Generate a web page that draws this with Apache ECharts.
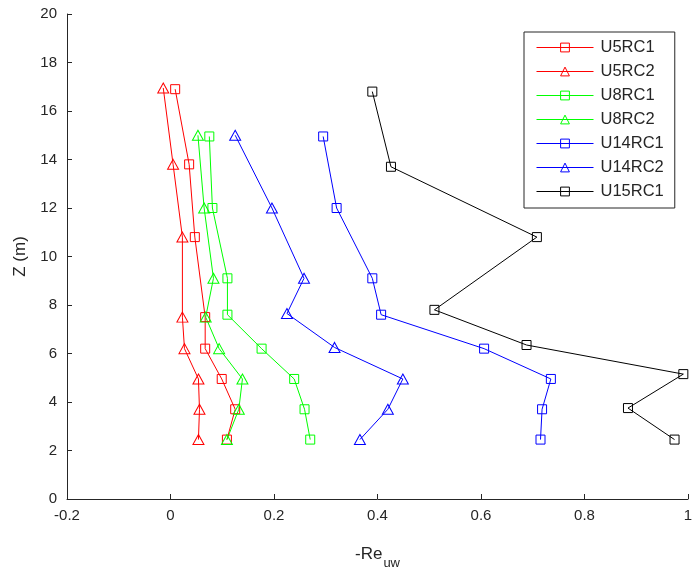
<!DOCTYPE html>
<html>
<head>
<meta charset="utf-8">
<style>
  html, body { margin: 0; padding: 0; background: #fff; }
  #chart { width: 693px; height: 569px; }
</style>
<script src="https://cdn.jsdelivr.net/npm/echarts@6/dist/echarts.min.js"></script>
</head>
<body>
<div id="chart"></div>
<script>
// Reynolds stress profiles: -Re_uw against height Z (m)
const seriesNames = ['U5RC1', 'U5RC2', 'U8RC1', 'U8RC2', 'U14RC1', 'U14RC2', 'U15RC1'];

const zU5RC1 = [16.9, 13.8, 10.8, 7.5, 6.2, 4.95, 3.7, 2.45];
const xU5RC1 = [0.009, 0.036, 0.047, 0.067, 0.067, 0.099, 0.125, 0.109];

const zU5RC2 = [16.95, 13.8, 10.8, 7.5, 6.2, 4.95, 3.7, 2.45];
const xU5RC2 = [-0.014, 0.005, 0.023, 0.023, 0.027, 0.054, 0.056, 0.054];

const zU8RC1 = [14.95, 12.0, 9.1, 7.6, 6.2, 4.95, 3.7, 2.45];
const xU8RC1 = [0.075, 0.081, 0.11, 0.11, 0.176, 0.239, 0.259, 0.27];

const zU8RC2 = [15.0, 12.0, 9.1, 7.5, 6.2, 4.95, 3.7, 2.45];
const xU8RC2 = [0.053, 0.065, 0.083, 0.068, 0.094, 0.139, 0.132, 0.109];

const zU14RC1 = [14.95, 12.0, 9.1, 7.6, 6.2, 4.95, 3.7, 2.45];
const xU14RC1 = [0.295, 0.321, 0.39, 0.407, 0.606, 0.735, 0.718, 0.715];

const zU14RC2 = [15.0, 12.0, 9.1, 7.65, 6.25, 4.95, 3.7, 2.45];
const xU14RC2 = [0.125, 0.196, 0.258, 0.225, 0.317, 0.449, 0.42, 0.366];

const zU15RC1 = [16.8, 13.7, 10.8, 7.8, 6.35, 5.15, 3.75, 2.45];
const xU15RC1 = [0.39, 0.426, 0.708, 0.51, 0.688, 0.991, 0.884, 0.974];

const xTicks = [-0.2, 0, 0.2, 0.4, 0.6, 0.8, 1];
const zTicks = [0, 2, 4, 6, 8, 10, 12, 14, 16, 18, 20];

const profiles = [
  { name: seriesNames[0], x: xU5RC1, z: zU5RC1, color: '#ff0000', marker: 'rect' },
  { name: seriesNames[1], x: xU5RC2, z: zU5RC2, color: '#ff0000', marker: 'triangle' },
  { name: seriesNames[2], x: xU8RC1, z: zU8RC1, color: '#00ff00', marker: 'rect' },
  { name: seriesNames[3], x: xU8RC2, z: zU8RC2, color: '#00ff00', marker: 'triangle' },
  { name: seriesNames[4], x: xU14RC1, z: zU14RC1, color: '#0000ff', marker: 'rect' },
  { name: seriesNames[5], x: xU14RC2, z: zU14RC2, color: '#0000ff', marker: 'triangle' },
  { name: seriesNames[6], x: xU15RC1, z: zU15RC1, color: '#000000', marker: 'rect' }
];

const FONT = '"Liberation Sans", Arial, sans-serif';
const AXIS_COLOR = '#262626';
const HOLLOW = 'rgba(255,255,255,0)';

const chart = echarts.init(document.getElementById('chart'), null, { renderer: 'canvas' });

const option = {
  backgroundColor: '#ffffff',
  animation: false,
  grid: { left: 67, right: 5, top: 14, bottom: 70, containLabel: false, outerBoundsMode: 'none' },
  legend: {
    orient: 'vertical',
    left: 524,
    top: 32,
    padding: [7, 11, 8, 12],
    itemWidth: 57,
    itemHeight: 11,
    itemGap: 7,
    backgroundColor: '#ffffff',
    borderColor: AXIS_COLOR,
    borderWidth: 1,
    textStyle: { fontFamily: FONT, fontSize: 16.5, color: AXIS_COLOR, padding: [0, 0, 0, 2] },
    data: profiles.map(function (p) {
      return {
        name: p.name,
        itemStyle: { color: HOLLOW, borderColor: p.color, borderWidth: 1 },
        lineStyle: { color: p.color, width: 1 }
      };
    })
  },
  xAxis: {
    type: 'value',
    min: -0.2,
    max: 1,
    interval: 0.2,
    name: '-Re{sub|uw}',
    nameLocation: 'middle',
    nameGap: 40,
    nameTextStyle: {
      fontFamily: FONT, fontSize: 17, color: AXIS_COLOR,
      rich: { sub: { fontFamily: FONT, fontSize: 13, color: AXIS_COLOR, padding: [18, 0, 0, 1] } }
    },
    axisLine: { show: true, onZero: false, lineStyle: { color: AXIS_COLOR, width: 1 } },
    axisTick: { show: true, inside: true, length: 5, lineStyle: { color: AXIS_COLOR } },
    axisLabel: {
      fontFamily: FONT, fontSize: 15, color: AXIS_COLOR, margin: 9,
      formatter: function (v) {
        const t = xTicks.find(function (k) { return Math.abs(k - v) < 1e-9; });
        return t === undefined ? '' : String(t);
      }
    },
    splitLine: { show: false }
  },
  yAxis: {
    type: 'value',
    min: 0,
    max: 20,
    interval: 2,
    name: 'Z (m)',
    nameLocation: 'middle',
    nameRotate: 90,
    nameGap: 38,
    nameTextStyle: { fontFamily: FONT, fontSize: 17, color: AXIS_COLOR },
    axisLine: { show: true, onZero: false, lineStyle: { color: AXIS_COLOR, width: 1 } },
    axisTick: { show: true, inside: true, length: 5, lineStyle: { color: AXIS_COLOR } },
    axisLabel: {
      fontFamily: FONT, fontSize: 15, color: AXIS_COLOR, margin: 10,
      formatter: function (v) {
        const t = zTicks.find(function (k) { return Math.abs(k - v) < 1e-9; });
        return t === undefined ? '' : String(t);
      }
    },
    splitLine: { show: false }
  },
  series: profiles.map(function (p) {
    return {
      name: p.name,
      type: 'line',
      data: p.x.map(function (xv, i) { return [xv, p.z[i]]; }),
      symbol: p.marker,
      symbolSize: p.marker === 'rect' ? 9 : [11, 10],
      showAllSymbol: true,
      lineStyle: { color: p.color, width: 1 },
      itemStyle: { color: HOLLOW, borderColor: p.color, borderWidth: 1 },
      emphasis: { disabled: true },
      z: 2
    };
  })
};

chart.setOption(option);
</script>
</body>
</html>
